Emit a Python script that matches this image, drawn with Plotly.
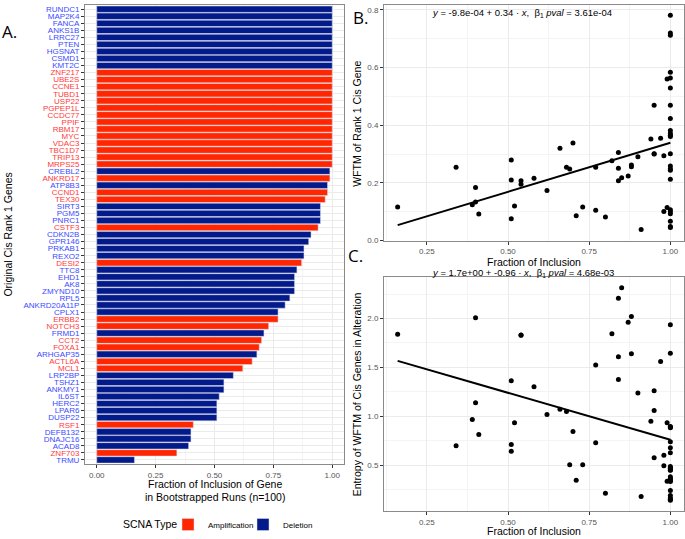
import plotly.graph_objects as go

# ---------------- data ----------------
genes = ["RUNDC1", "MAP2K4", "FANCA", "ANKS1B", "LRRC27", "PTEN", "HGSNAT", "CSMD1", "KMT2C",
         "ZNF217", "UBE2S", "CCNE1", "TUBD1", "USP22", "PGPEP1L", "CCDC77", "PPIF", "RBM17",
         "MYC", "VDAC3", "TBC1D7", "TRIP13", "MRPS25", "CREBL2", "ANKRD17", "ATP8B3", "CCND1",
         "TEX30", "SIRT3", "PGM5", "PNRC1", "CSTF3", "CDKN2B", "GPR146", "PRKAB1", "REXO2",
         "DESI2", "TTC8", "EHD1", "AK8", "ZMYND10", "RPL5", "ANKRD20A11P", "CPLX1", "ERBB2",
         "NOTCH3", "FRMD1", "CCT2", "FOXA1", "ARHGAP35", "ACTL6A", "MCL1", "LRP2BP", "TSHZ1",
         "ANKMY1", "IL6ST", "HERC2", "LPAR6", "DUSP22", "RSF1", "DEFB132", "DNAJC16", "ACAD8",
         "ZNF703", "TRMU"]
scna_type = ["D"] * 9 + ["A"] * 14 + ["D", "A", "D", "A", "A", "D", "D", "D", "A", "D", "D", "D",
             "D", "A", "D", "D", "D", "D", "D", "D", "D", "A", "A", "D", "A", "A", "D", "A", "A",
             "D", "D", "D", "D", "D", "D", "D", "A", "D", "D", "D", "A", "D"]
fraction = [1.0] * 23 + [0.99, 0.99, 0.98, 0.98, 0.97, 0.95, 0.95, 0.95, 0.94, 0.91, 0.90, 0.88,
            0.88, 0.87, 0.85, 0.84, 0.84, 0.84, 0.82, 0.80, 0.77, 0.77, 0.73, 0.71, 0.70, 0.69,
            0.68, 0.66, 0.62, 0.58, 0.54, 0.54, 0.52, 0.51, 0.51, 0.51, 0.41, 0.40, 0.40, 0.39,
            0.34, 0.16]
wftm = [0.781, 0.720, 0.712, 0.584, 0.564, 0.529, 0.469, 0.423, 0.382, 0.371, 0.365, 0.361,
        0.301, 0.259, 0.249, 0.244, 0.213, 0.107, 0.100, 0.093, 0.067, 0.049, 0.045,
        0.560, 0.115, 0.294, 0.101, 0.355, 0.469, 0.301, 0.300, 0.352, 0.038, 0.291, 0.262,
        0.256, 0.224, 0.218, 0.305, 0.251, 0.207, 0.277, 0.082, 0.254, 0.105, 0.116, 0.086,
        0.338, 0.248, 0.254, 0.320, 0.174, 0.216, 0.207, 0.195, 0.120, 0.279, 0.210, 0.076,
        0.092, 0.184, 0.134, 0.124, 0.254, 0.116]
entropy = [1.936, 1.645, 0.896, 0.890, 0.883, 0.738, 0.677, 0.626, 0.487, 0.470, 0.467, 0.450,
           0.447, 0.380, 0.360, 0.359, 0.340, 0.332, 0.241, 0.190, 0.163, 0.150, 0.140,
           0.933, 0.335, 0.602, 0.494, 1.561, 1.260, 1.058, 0.575, 0.950, 0.180, 1.237, 2.020,
           1.639, 1.963, 2.314, 2.207, 1.609, 1.376, 1.845, 0.211, 1.524, 0.730, 0.505, 0.345,
           0.845, 0.505, 1.048, 1.072, 1.017, 1.301, 1.832, 1.830, 0.933, 1.362, 0.710, 0.642,
           0.812, 2.007, 1.139, 0.967, 0.697, 1.838]
fit_b = (-9.8e-04, 0.34)   # intercept, slope
fit_c = (1.72, -0.96)
eq_b = "<i>y</i> = -9.8e-04 + 0.34 · <i>x</i>,  β<sub>1</sub> <i>pval</i> = 3.61e-04"
eq_c = "<i>y</i> = 1.7e+00 + -0.96 · <i>x</i>,  β<sub>1</sub> <i>pval</i> = 4.68e-03"
type_names = {"A": "Amplification", "D": "Deletion"}

# ---------------- style ----------------
W, H = 685, 539
FONT = "Liberation Sans, Arial, sans-serif"
BAR_COL = {"A": "#FF2600", "D": "#021A8A"}
LAB_COL = {"A": "#FF3A3A", "D": "#3A4BFF"}
GRID = "#EBEBEB"
MINOR = "#F4F4F4"
BORDER = "#8A8A8A"
TICKF = dict(family=FONT, size=8, color="#555555")


def px_x(p):
    return p / W


def px_y(p):
    return 1 - p / H


fig = go.Figure()

# Panel A bars
for t in ["A", "D"]:
    gs = [g for g, s in zip(genes, scna_type) if s == t]
    fs = [f for f, s in zip(fraction, scna_type) if s == t]
    fig.add_trace(go.Bar(x=fs, y=gs, orientation="h", name=type_names[t],
                         marker=dict(color=BAR_COL[t], line=dict(color="#DDDDEE", width=0.5)),
                         xaxis="x", yaxis="y", showlegend=True))

# Panel B
fig.add_trace(go.Scatter(x=fraction, y=wftm, mode="markers",
                         marker=dict(color="black", size=5), xaxis="x2", yaxis="y2",
                         showlegend=False))
xl = [min(fraction), max(fraction)]
fig.add_trace(go.Scatter(x=xl, y=[fit_b[0] + fit_b[1] * v for v in xl], mode="lines",
                         line=dict(color="black", width=2), xaxis="x2", yaxis="y2",
                         showlegend=False))
# Panel C
fig.add_trace(go.Scatter(x=fraction, y=entropy, mode="markers",
                         marker=dict(color="black", size=5), xaxis="x3", yaxis="y3",
                         showlegend=False))
fig.add_trace(go.Scatter(x=xl, y=[fit_c[0] + fit_c[1] * v for v in xl], mode="lines",
                         line=dict(color="black", width=2), xaxis="x3", yaxis="y3",
                         showlegend=False))

common = dict(showline=True, mirror=True, linecolor=BORDER, linewidth=1, ticks="outside",
              ticklen=3, tickcolor="#333333", tickwidth=1, tickfont=TICKF, zeroline=False,
              gridcolor=GRID, gridwidth=1, automargin=False, fixedrange=True)

xticks_a = [0, 0.25, 0.5, 0.75, 1.0]
xticks_s = [0.25, 0.5, 0.75, 1.0]

fig.update_layout(
    width=W, height=H, margin=dict(l=0, r=0, t=0, b=0),
    paper_bgcolor="white", plot_bgcolor="white",
    font=dict(family=FONT, color="black"),
    barmode="overlay", bargap=0.1,
    xaxis=dict(domain=[px_x(85), px_x(344)], range=[-0.05, 1.05], anchor="y",
               tickvals=xticks_a, ticktext=["%.2f" % v for v in xticks_a],
               minor=dict(tickvals=[0.125, 0.375, 0.625, 0.875], showgrid=True,
                          gridcolor=MINOR, ticks=""), **common),
    yaxis=dict(domain=[px_y(465), px_y(5)], type="category", categoryorder="array",
               categoryarray=genes, range=[len(genes) - 0.4, -0.6], anchor="x",
               tickvals=genes,
               ticktext=['<span style="color:%s">%s</span>' % (LAB_COL[s], g)
                         for g, s in zip(genes, scna_type)],
               **{**common, "tickfont": dict(family=FONT, size=8)}),
    xaxis2=dict(domain=[px_x(384), px_x(684)], range=[0.118, 1.042], anchor="y2",
                tickvals=xticks_s, ticktext=["%.2f" % v for v in xticks_s],
                minor=dict(tickvals=[0.125, 0.375, 0.625, 0.875], showgrid=True,
                           gridcolor=MINOR, ticks=""), **common),
    yaxis2=dict(domain=[px_y(241), px_y(5)], range=[0.0, 0.817], anchor="x2",
                tickvals=[0, 0.2, 0.4, 0.6, 0.8], ticktext=["0.0", "0.2", "0.4", "0.6", "0.8"],
                minor=dict(tickvals=[0.1, 0.3, 0.5, 0.7], showgrid=True, gridcolor=MINOR,
                           ticks=""), **common),
    xaxis3=dict(domain=[px_x(384), px_x(684)], range=[0.118, 1.042], anchor="y3",
                tickvals=xticks_s, ticktext=["%.2f" % v for v in xticks_s],
                minor=dict(tickvals=[0.125, 0.375, 0.625, 0.875], showgrid=True,
                           gridcolor=MINOR, ticks=""), **common),
    yaxis3=dict(domain=[px_y(512), px_y(278)], range=[0.03, 2.42], anchor="x3",
                tickvals=[0.5, 1.0, 1.5, 2.0], ticktext=["0.5", "1.0", "1.5", "2.0"],
                minor=dict(tickvals=[0.25, 0.75, 1.25, 1.75, 2.25], showgrid=True,
                           gridcolor=MINOR, ticks=""), **common),
    legend=dict(orientation="h", x=px_x(168), y=px_y(525), xanchor="left", yanchor="middle",
                font=dict(family=FONT, size=8), bgcolor="rgba(0,0,0,0)",
                entrywidth=30, entrywidthmode="pixels", traceorder="normal"),
)

ann = []
TITLE = dict(family=FONT, size=10.5, color="black")
LETTER = dict(family="Open Sans, DejaVu Sans", size=17, color="black")
ann.append(dict(text="A.", x=px_x(9), y=px_y(32), showarrow=False, font=LETTER))
ann.append(dict(text="B.", x=px_x(360), y=px_y(18), showarrow=False, font=LETTER))
ann.append(dict(text="C.", x=px_x(355), y=px_y(256), showarrow=False, font=LETTER))
ann.append(dict(text="Original Cis Rank 1 Genes", x=px_x(8), y=px_y(235), textangle=-90,
                showarrow=False, font=TITLE))
ann.append(dict(text="Fraction of Inclusion of Gene", x=px_x(215), y=px_y(485),
                showarrow=False, font=TITLE))
ann.append(dict(text="in Bootstrapped Runs (n=100)", x=px_x(215), y=px_y(498),
                showarrow=False, font=TITLE))
ann.append(dict(text="WFTM of Rank 1 Cis Gene", x=px_x(357), y=px_y(124), textangle=-90,
                showarrow=False, font=TITLE))
ann.append(dict(text="Fraction of Inclusion", x=px_x(534), y=px_y(262), showarrow=False,
                font=TITLE))
ann.append(dict(text="Entropy of WFTM of Cis Genes in Alteration", x=px_x(357),
                y=px_y(395), textangle=-90, showarrow=False, font=TITLE))
ann.append(dict(text="Fraction of Inclusion", x=px_x(534), y=px_y(532), showarrow=False,
                font=TITLE))
ann.append(dict(text=eq_b, x=px_x(522), y=px_y(13), showarrow=False,
                font=dict(family=FONT, size=9.5, color="black")))
ann.append(dict(text=eq_c, x=px_x(523), y=px_y(274), showarrow=False,
                font=dict(family=FONT, size=9.5, color="black")))
ann.append(dict(text="SCNA Type", x=px_x(150), y=px_y(525), showarrow=False,
                font=dict(family=FONT, size=10.5, color="black")))
for a in ann:
    a.update(xref="paper", yref="paper", xanchor="center", yanchor="middle")
fig.update_layout(annotations=ann)

fig.write_html("out.html", config={"displayModeBar": False},
               post_script="document.body.style.margin='0';document.body.style.overflow='hidden';")
